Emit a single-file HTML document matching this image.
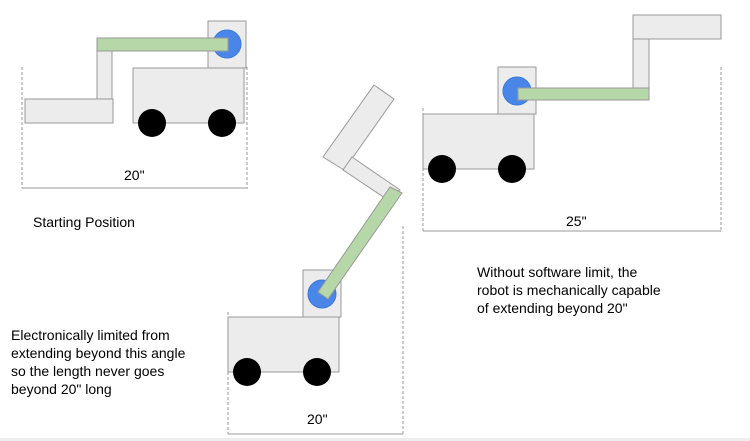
<!DOCTYPE html>
<html><head><meta charset="utf-8"><style>
html,body{margin:0;padding:0;background:#fff;}
svg{display:block;}
text{font-family:"Liberation Sans",Arial,sans-serif;font-size:14px;fill:#000;}
</style></head><body>
<svg width="750" height="441" viewBox="0 0 750 441" xmlns="http://www.w3.org/2000/svg">
<rect x="0" y="438" width="750" height="3" fill="#eeeeee"/>
<g stroke="#999" stroke-width="1" fill="#ececec">
<!-- Robot 1 -->
<rect x="208" y="21" width="38" height="47"/>
<rect x="97" y="51" width="15" height="48"/>
<rect x="25" y="99" width="88" height="24"/>
<rect x="133" y="68" width="111" height="55"/>
<circle cx="227" cy="44" r="14" fill="#4a86e8" stroke="#3c78d8"/>
<rect x="97" y="38" width="131" height="13" fill="#b6d7a8"/>
<!-- Robot 2 -->
<rect x="228" y="317" width="111" height="55"/>
<rect x="303" y="270" width="38" height="47"/>
<circle cx="322" cy="294" r="14" fill="#4a86e8" stroke="#3c78d8"/>
<polygon points="374,85 394,99 344,170 323,157"/>
<polygon points="352,157 400,190 385,198 343,170"/>
<polygon points="390,187 402,193 328,299 318,292" fill="#b6d7a8"/>
<!-- Robot 3 -->
<rect x="633" y="15" width="88" height="24"/>
<rect x="633" y="39" width="16" height="49"/>
<rect x="423" y="114" width="111" height="55"/>
<rect x="498" y="67" width="38" height="47"/>
<circle cx="517" cy="91" r="14" fill="#4a86e8" stroke="#3c78d8"/>
<rect x="518" y="88" width="131" height="12" fill="#b6d7a8"/>
</g>
<g fill="#000">
<circle cx="152" cy="123" r="14"/><circle cx="222" cy="123" r="14"/>
<circle cx="247" cy="372" r="14"/><circle cx="317" cy="372" r="14"/>
<circle cx="442" cy="169" r="14"/><circle cx="512" cy="169" r="14"/>
</g>
<g stroke="#999" stroke-width="1" fill="none">
<line x1="22" y1="67" x2="22" y2="188" stroke-dasharray="3,2"/>
<line x1="247" y1="67" x2="247" y2="188" stroke-dasharray="3,2"/>
<line x1="22" y1="188" x2="248" y2="188"/>
<line x1="228" y1="312" x2="228" y2="434" stroke-dasharray="3,2"/>
<line x1="403" y1="226" x2="403" y2="434" stroke-dasharray="3,2"/>
<line x1="228" y1="434" x2="403" y2="434"/>
<line x1="423" y1="108" x2="423" y2="231" stroke-dasharray="3,2"/>
<line x1="721" y1="67" x2="721" y2="231" stroke-dasharray="3,2"/>
<line x1="423" y1="231" x2="721" y2="231"/>
</g>
<text x="124" y="180">20"</text>
<text x="307" y="424">20"</text>
<text x="566" y="226">25"</text>
<text x="33" y="227">Starting Position</text>
<text x="11" y="340">Electronically limited from</text>
<text x="11" y="358">extending beyond this angle</text>
<text x="11" y="376">so the length never goes</text>
<text x="11" y="394">beyond 20" long</text>
<text x="477" y="277">Without software limit, the</text>
<text x="477" y="295">robot is mechanically capable</text>
<text x="477" y="313">of extending beyond 20"</text>
</svg>
</body></html>
